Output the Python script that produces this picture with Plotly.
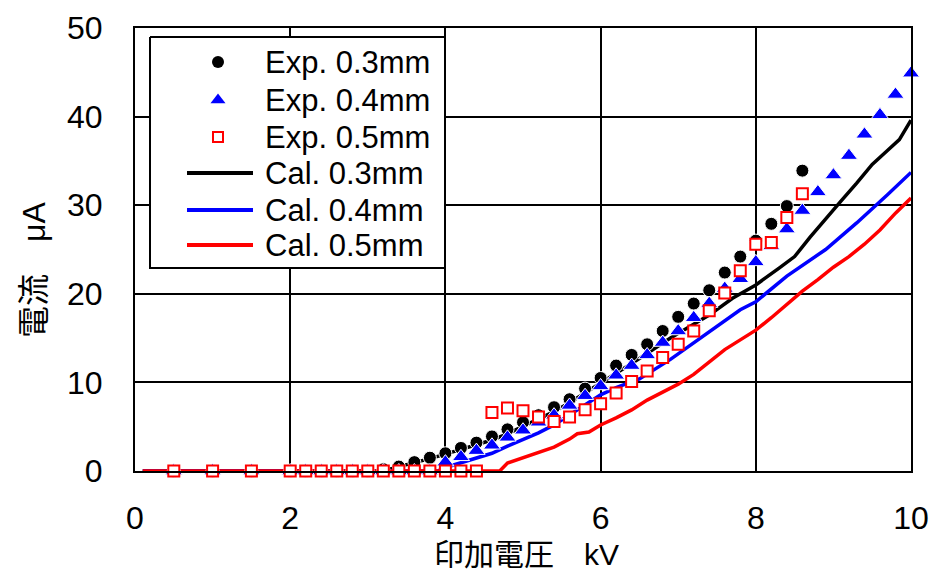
import plotly.graph_objects as go

# ---------------- data ----------------
exp_x_short = [0.5, 1.0, 1.5, 2.0, 2.2, 2.4, 2.6, 2.8, 3.0, 3.2, 3.4, 3.6, 3.8, 4.0, 4.2, 4.4,
               4.6, 4.8, 5.0, 5.2, 5.4, 5.6, 5.8, 6.0, 6.2, 6.4, 6.6, 6.8, 7.0, 7.2, 7.4, 7.6,
               7.8, 8.0, 8.2, 8.4, 8.6]
exp03_y = [0, 0, 0, 0, 0, 0, 0, 0, 0, 0.2, 0.5, 1.0, 1.5, 2.0, 2.6, 3.2,
           3.9, 4.7, 5.5, 6.3, 7.2, 8.1, 9.3, 10.5, 11.9, 13.1, 14.3, 15.8, 17.4, 18.9, 20.4, 22.4,
           24.2, 26.0, 27.9, 29.9, 33.9]

exp_x_long = exp_x_short + [8.8, 9.0, 9.2, 9.4, 9.6, 9.8, 10.0]
exp04_y = [0, 0, 0, 0, 0, 0, 0, 0, 0, 0, 0, 0, 0, 1.0, 1.6, 2.3,
           2.9, 3.8, 4.6, 5.5, 6.3, 7.4, 8.5, 9.6, 10.8, 11.9, 13.1, 14.5, 15.8, 17.3, 18.9, 20.6,
           21.7, 23.6, 25.4, 27.3, 29.4, 31.5, 33.4, 35.6, 38.0, 40.2, 42.5, 44.9]

exp05_y = [0, 0, 0, 0, 0, 0, 0, 0, 0, 0, 0, 0, 0, 0, 0, 0,
           6.6, 7.1, 6.8, 6.1, 5.6, 6.1, 6.9, 7.6, 8.8, 10.1, 11.3, 12.8, 14.3, 15.8, 18.1, 20.1,
           22.6, 25.6, 25.8, 28.6, 31.3]

cal03_x = [0.1, 3.2, 3.4, 3.6, 3.8, 4.0, 4.2, 4.4, 4.6, 4.8, 5.0, 5.2, 5.4, 5.6, 5.8, 6.0, 6.2,
           6.5, 6.9, 7.1, 7.4, 7.7, 8.0, 8.3, 8.5, 8.7, 8.9, 9.1, 9.3, 9.5, 9.7, 9.85, 10.0]
cal03_y = [0, 0, 0.5, 0.9, 1.4, 1.9, 2.4, 2.9, 3.5, 4.2, 5.0, 5.8, 6.7, 7.7, 8.8, 9.9, 11.0,
           12.7, 15.0, 16.0, 17.6, 19.5, 21.0, 22.9, 24.2, 26.4, 28.5, 30.5, 32.5, 34.6, 36.2, 37.4, 39.6]

cal04_x = [0.1, 3.9, 4.0, 4.2, 4.4, 4.6, 4.8, 5.0, 5.2, 5.4, 5.6, 5.8, 6.0, 6.2, 6.5, 6.9,
           7.4, 7.8, 8.0, 8.4, 8.9, 9.3, 9.7, 10.0]
cal04_y = [0, 0, 0.4, 0.9, 1.4, 2.0, 2.8, 3.5, 4.3, 5.2, 6.3, 7.4, 8.6, 9.4, 10.4, 12.6,
           15.7, 18.2, 19.1, 22.0, 25.0, 28.0, 31.2, 33.7]

cal05_x = [0.1, 4.7, 4.8, 5.0, 5.2, 5.4, 5.6, 5.7, 5.85, 6.0, 6.2, 6.4, 6.6, 6.8, 7.0, 7.2,
           7.4, 7.6, 7.8, 8.0, 8.2, 8.4, 8.6, 8.8, 9.0, 9.2, 9.4, 9.6, 9.8, 10.0]
cal05_y = [0, 0, 0.9, 1.5, 2.0, 2.7, 3.6, 4.2, 4.4, 5.2, 6.0, 6.9, 8.0, 8.9, 9.8, 10.9,
           12.3, 13.7, 14.8, 15.9, 17.3, 18.8, 20.3, 21.6, 23.0, 24.2, 25.6, 27.2, 29.1, 30.8]

legend_labels = ["Exp. 0.3mm", "Exp. 0.4mm", "Exp. 0.5mm", "Cal. 0.3mm", "Cal. 0.4mm", "Cal. 0.5mm"]
x_ticks = [0, 2, 4, 6, 8, 10]
y_ticks = [0, 10, 20, 30, 40, 50]
x_title = "印加電圧　kV"
y_title = "電流　μA"

# ---------------- styling / layout ----------------
W, H = 935, 573
L, R, T, B = 135, 911, 28, 471
FONT = "Liberation Sans, Arial, Noto Sans CJK JP, sans-serif"
BLUE, RED, BLACK = "#0000FF", "#FF0000", "#000000"


def paper_x(px):
    return (px - L) / (R - L)


def paper_y(py):
    return (B - py) / (B - T)


fig = go.Figure()

# calculated lines (drawn first, under markers)
for xs, ys, col in [(cal03_x, cal03_y, BLACK), (cal04_x, cal04_y, BLUE), (cal05_x, cal05_y, RED)]:
    fig.add_trace(go.Scatter(x=xs, y=ys, mode="lines", line=dict(color=col, width=3.5),
                             showlegend=False, cliponaxis=False, hoverinfo="skip"))

fig.add_trace(go.Scatter(x=exp_x_short, y=exp03_y, mode="markers",
                         marker=dict(symbol="circle", size=13, color=BLACK,
                                     line=dict(color="white", width=1)),
                         showlegend=False, cliponaxis=False))
fig.add_trace(go.Scatter(x=exp_x_long, y=exp04_y, mode="markers",
                         marker=dict(symbol="triangle-up", size=15, color=BLUE,
                                     line=dict(color="white", width=1)),
                         showlegend=False, cliponaxis=False))
fig.add_trace(go.Scatter(x=exp_x_short, y=exp05_y, mode="markers",
                         marker=dict(symbol="square", size=11, color="white",
                                     line=dict(color=RED, width=2)),
                         showlegend=False, cliponaxis=False))

# ---------- custom legend on a pixel-mapped overlay axis ----------
box_x0, box_x1, box_y0, box_y1 = 150, 445, 37, 268
fig.add_trace(go.Scatter(x=[box_x0, box_x1, box_x1, box_x0, box_x0],
                         y=[box_y0, box_y0, box_y1, box_y1, box_y0],
                         xaxis="x2", yaxis="y2", mode="lines", fill="toself",
                         fillcolor="white", line=dict(color=BLACK, width=2),
                         showlegend=False, cliponaxis=False, hoverinfo="skip"))

rows = [62, 100, 137, 173, 210, 245]
sym_x, line_x0, line_x1, text_x = 218, 187, 253, 263
fig.add_trace(go.Scatter(x=[sym_x], y=[rows[0]], xaxis="x2", yaxis="y2", mode="markers",
                         marker=dict(symbol="circle", size=12, color=BLACK),
                         showlegend=False, cliponaxis=False, hoverinfo="skip"))
fig.add_trace(go.Scatter(x=[sym_x], y=[rows[1]], xaxis="x2", yaxis="y2", mode="markers",
                         marker=dict(symbol="triangle-up", size=13, color=BLUE),
                         showlegend=False, cliponaxis=False, hoverinfo="skip"))
fig.add_trace(go.Scatter(x=[sym_x], y=[rows[2]], xaxis="x2", yaxis="y2", mode="markers",
                         marker=dict(symbol="square", size=10, color="white",
                                     line=dict(color=RED, width=2)),
                         showlegend=False, cliponaxis=False, hoverinfo="skip"))
for r, col in zip(rows[3:], [BLACK, BLUE, RED]):
    fig.add_trace(go.Scatter(x=[line_x0, line_x1], y=[r, r], xaxis="x2", yaxis="y2",
                             mode="lines", line=dict(color=col, width=4),
                             showlegend=False, cliponaxis=False, hoverinfo="skip"))

for r, lab in zip(rows, legend_labels):
    fig.add_annotation(x=text_x, y=r, xref="x2", yref="y2", text=lab, showarrow=False,
                       xanchor="left", yanchor="middle", font=dict(size=31, color=BLACK, family=FONT))

# axis titles (paper coordinates, outside the plot area)
fig.add_annotation(x=paper_x(526.5), y=paper_y(554), xref="paper", yref="paper", text=x_title,
                   showarrow=False, xanchor="center", yanchor="middle", borderpad=0,
                   font=dict(size=30, color=BLACK, family=FONT))
fig.add_annotation(x=paper_x(34), y=paper_y(270), xref="paper", yref="paper", text=y_title,
                   showarrow=False, textangle=-90, xanchor="center", yanchor="middle",
                   font=dict(size=32, color=BLACK, family=FONT))

fig.update_layout(
    width=W, height=H,
    margin=dict(l=L, r=W - R, t=T, b=H - B, pad=0, autoexpand=False),
    paper_bgcolor="white", plot_bgcolor="white",
    font=dict(family=FONT, size=32, color=BLACK),
    showlegend=False,
    xaxis=dict(range=[0, 10], tickvals=x_ticks, ticktext=[str(v) for v in x_ticks],
               showgrid=True, gridcolor=BLACK, gridwidth=2, automargin=False,
               showline=True, linecolor=BLACK, linewidth=2, mirror=True,
               ticks="", ticklabelstandoff=18, zeroline=False,
               tickfont=dict(size=32, family=FONT, color=BLACK)),
    yaxis=dict(range=[0, 50], tickvals=y_ticks, ticktext=[str(v) for v in y_ticks],
               showgrid=True, gridcolor=BLACK, gridwidth=2, automargin=False,
               showline=True, linecolor=BLACK, linewidth=2, mirror=True,
               ticks="", ticklabelstandoff=24, zeroline=False,
               tickfont=dict(size=32, family=FONT, color=BLACK)),
    xaxis2=dict(range=[L, R], overlaying="x", anchor="y2", visible=False, fixedrange=True,
                automargin=False),
    yaxis2=dict(range=[B, T], overlaying="y", anchor="x2", visible=False, fixedrange=True,
                automargin=False),
)

fig.write_html("out.html")
